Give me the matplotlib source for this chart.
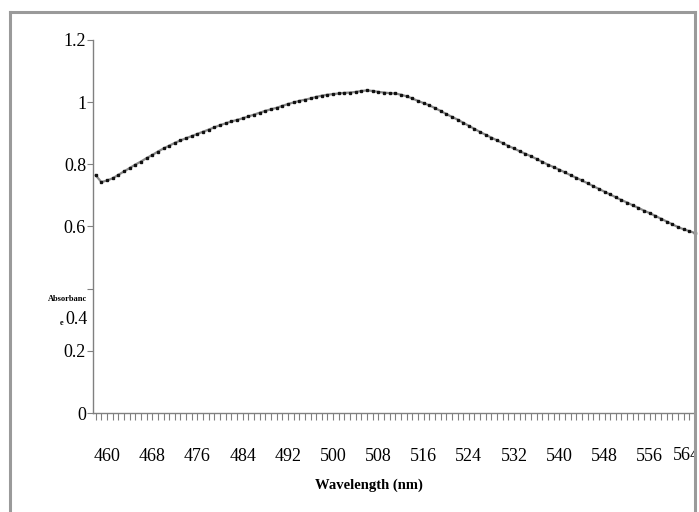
import matplotlib
matplotlib.use("Agg")
import matplotlib.pyplot as plt
from matplotlib.lines import Line2D
from matplotlib.transforms import Bbox

# Absorbance spectrum, 1 nm steps
wavelength = list(range(458, 565))
absorbance = [
    0.765, 0.743, 0.748, 0.755, 0.766, 0.777, 0.788, 0.799, 0.809, 0.820,
    0.830, 0.841, 0.851, 0.860, 0.869, 0.877, 0.884, 0.891, 0.898, 0.905,
    0.912, 0.919, 0.926, 0.932, 0.938, 0.943, 0.948, 0.954, 0.960, 0.966,
    0.972, 0.977, 0.982, 0.988, 0.994, 0.999, 1.004, 1.008, 1.012, 1.017,
    1.021, 1.024, 1.026, 1.028, 1.030, 1.031, 1.033, 1.036, 1.038, 1.036,
    1.033, 1.031, 1.029, 1.028, 1.024, 1.019, 1.012, 1.004, 0.997, 0.990,
    0.981, 0.972, 0.962, 0.953, 0.944, 0.934, 0.924, 0.914, 0.904, 0.895,
    0.886, 0.877, 0.868, 0.859, 0.851, 0.842, 0.834, 0.826, 0.817, 0.808,
    0.799, 0.791, 0.783, 0.774, 0.765, 0.757, 0.748, 0.739, 0.730, 0.721,
    0.712, 0.703, 0.694, 0.685, 0.677, 0.668, 0.660, 0.651, 0.643, 0.634,
    0.625, 0.616, 0.607, 0.598, 0.591, 0.585, 0.579,
]
x_ticks = list(range(460, 565, 8))
x_labels = [str(v) for v in x_ticks[:-1]] + [""]
y_ticks = [0, 0.2, 0.4, 0.6, 0.8, 1, 1.2]
y_labels = ["0", "0.2", "", "0.6", "0.8", "1", "1.2"]

plt.rcParams["font.family"] = ["Liberation Serif", "DejaVu Serif"]

W, H = 699, 512
fig = plt.figure(figsize=(W / 100, H / 100), dpi=100)
ax = fig.add_axes([93 / W, 99 / H, 602 / W, 373 / H])

ax.plot(wavelength, absorbance, color="#8a8a8a", lw=1.6, zorder=2,
        clip_on=False)
ax.plot(wavelength, absorbance, ls="none", marker="s", ms=1.8,
        color="#111111", zorder=3, clip_on=False)

ax.set_xlim(457.53, 564.0)
ax.set_ylim(0, 1.2)

for s in ("top", "right"):
    ax.spines[s].set_visible(False)
for s in ("left", "bottom"):
    ax.spines[s].set_color("#808080")
    ax.spines[s].set_linewidth(1.0)

ax.set_xticks(x_ticks)
ax.set_xticklabels(x_labels)
ax.set_xticks(range(458, 565), minor=True)
ax.set_yticks(y_ticks)
ax.set_yticklabels(y_labels)
ax.tick_params(axis="x", which="both", direction="out", length=5,
               color="#808080", width=0.8, pad=20, labelsize=13)
ax.tick_params(axis="y", direction="out", length=4, color="#808080",
               width=0.8, pad=1, labelsize=13)

# last x label sits left of its tick and is cut by the frame
last = fig.text(686 / W, 1 - 455 / H, str(x_ticks[-1]), fontsize=13,
                ha="center", va="center")
last.set_clip_box(Bbox.from_extents(0, 0, 695, H))
last.set_clip_on(True)

# odd y-label placement in the original
fig.text(87 / W, 1 - 299 / H, "Absorbanc", fontsize=6, fontweight="bold",
         ha="right", va="center")
fig.text(62 / W, 1 - 323 / H, "e", fontsize=6, fontweight="bold",
         ha="center", va="center")
fig.text(88 / W, 1 - 319 / H, "0.4", fontsize=13, ha="right", va="center")

fig.text(369 / W, 1 - 485 / H, "Wavelength (nm)", fontsize=10.5,
         fontweight="bold", ha="center", va="center")

# grey frame around the picture
fr = dict(color="#9a9a9a", lw=2.2, transform=fig.transFigure, zorder=5)
fig.add_artist(Line2D([10 / W, 10 / W], [0, 1 - 12 / H], **fr))
fig.add_artist(Line2D([10 / W, 695 / W], [1 - 12 / H, 1 - 12 / H], **fr))
fig.add_artist(Line2D([695 / W, 695 / W], [0, 1 - 12 / H], **fr))

fig.savefig("out.png", dpi=100)
